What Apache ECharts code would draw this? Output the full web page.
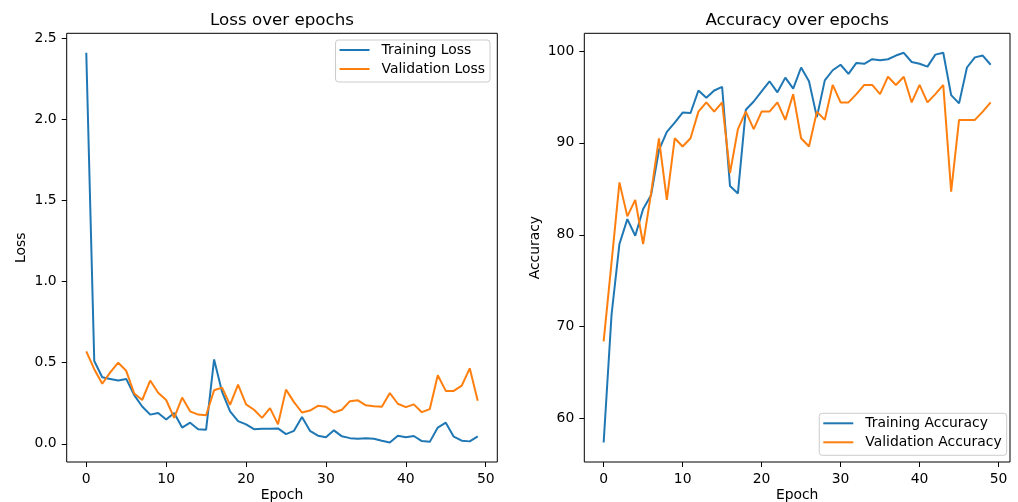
<!DOCTYPE html>
<html>
<head>
<meta charset="utf-8">
<title>Training curves</title>
<script src="https://cdn.jsdelivr.net/npm/echarts@6/dist/echarts.min.js"></script>
<style>
  html, body { margin: 0; padding: 0; background: #ffffff; }
  #chart { width: 1018px; height: 502px; }
</style>
</head>
<body>
<div id="chart"></div>
<script>
// Per-epoch metrics (50 epochs)
const epochs = Array.from({ length: 50 }, (_, i) => i);

const trainLoss = [2.41, 0.51, 0.41, 0.40, 0.39, 0.40, 0.30, 0.23, 0.18, 0.19,
  0.15, 0.19, 0.10, 0.13, 0.09, 0.087, 0.52, 0.32, 0.20, 0.14,
  0.12, 0.09, 0.093, 0.093, 0.095, 0.06, 0.08, 0.165, 0.08, 0.05,
  0.04, 0.083, 0.046, 0.035, 0.031, 0.035, 0.031, 0.019, 0.008, 0.05,
  0.04, 0.048, 0.017, 0.012, 0.10, 0.13, 0.044, 0.019, 0.015, 0.046];

const valLoss = [0.57, 0.46, 0.37, 0.44, 0.50, 0.45, 0.31, 0.27, 0.39, 0.315,
  0.27, 0.16, 0.285, 0.20, 0.18, 0.176, 0.33, 0.346, 0.24, 0.365,
  0.243, 0.21, 0.16, 0.22, 0.12, 0.334, 0.257, 0.193, 0.205, 0.234,
  0.228, 0.193, 0.21, 0.263, 0.268, 0.237, 0.232, 0.228, 0.313, 0.247,
  0.226, 0.243, 0.195, 0.214, 0.423, 0.326, 0.326, 0.359, 0.465, 0.266];

const trainAcc = [57.4, 71.3, 79.0, 81.7, 79.9, 82.8, 84.3, 89.2, 91.2, 92.2,
  93.3, 93.25, 95.7, 94.9, 95.7, 96.1, 85.3, 84.5, 93.6, 94.5,
  95.6, 96.7, 95.5, 97.1, 95.9, 98.2, 96.7, 92.8, 96.8, 97.9,
  98.5, 97.5, 98.7, 98.6, 99.1, 99.0, 99.1, 99.5, 99.8, 98.8,
  98.6, 98.3, 99.6, 99.8, 95.2, 94.3, 98.2, 99.3, 99.5, 98.5];

const valAcc = [68.4, 77.0, 85.7, 82.0, 83.8, 79.0, 84.5, 90.5, 83.8, 90.5,
  89.6, 90.5, 93.4, 94.4, 93.4, 94.4, 86.7, 91.5, 93.4, 91.5,
  93.4, 93.4, 94.4, 92.5, 95.3, 90.5, 89.6, 93.4, 92.5, 96.3,
  94.4, 94.4, 95.3, 96.3, 96.3, 95.3, 97.2, 96.3, 97.2, 94.4,
  96.3, 94.4, 95.3, 96.3, 84.7, 92.5, 92.5, 92.5, 93.4, 94.4];

// Tick positions
const epochTicks = [0, 10, 20, 30, 40, 50];
const lossTicks = [0, 0.5, 1.0, 1.5, 2.0, 2.5];
const accTicks = [60, 70, 80, 90, 100];

const FONT = 'DejaVu Sans';
const BLUE = '#1f77b4';
const ORANGE = '#ff7f0e';
const W = 1018;

// Axes rectangles (px)
const lossBox = { left: 66.7, top: 33.3, width: 430.6, height: 428.7 };
const accBox = { left: 584.3, top: 33.3, width: 425.7, height: 428.7 };

// Padded data ranges (5% margins on each side)
function padded(values) {
  const lo = Math.min(...values), hi = Math.max(...values);
  const m = (hi - lo) * 0.05;
  return [lo - m, hi + m];
}
const xRange = padded(epochs);
const lossRange = padded(trainLoss.concat(valLoss));
const accRange = padded(trainAcc.concat(valAcc));

const pairs = ys => epochs.map((e, i) => [e, ys[i]]);

// Center titles over each axes box
const measureCtx = document.createElement('canvas').getContext('2d');
function textWidth(str, size) {
  measureCtx.font = size + 'px "' + FONT + '"';
  return measureCtx.measureText(str).width;
}
const TITLE_SIZE = 16.7;
function centeredTitle(text, box) {
  const w = textWidth(text, TITLE_SIZE);
  return {
    text: text,
    left: box.left + box.width / 2 - w / 2,
    top: 12.5,
    padding: 0,
    textStyle: { fontFamily: FONT, fontSize: TITLE_SIZE, fontWeight: 'normal', color: '#000' }
  };
}

const tickStyle = { show: true, inside: false, length: 5, lineStyle: { color: '#000', width: 1 } };
const labelBase = { color: '#000', fontFamily: FONT, fontSize: 13.9, margin: 10 };

function xAxis(gridIndex) {
  return {
    type: 'value', gridIndex: gridIndex,
    min: xRange[0], max: xRange[1],
    name: 'Epoch', nameLocation: 'middle', nameGap: 26, nameMoveOverlap: false,
    nameTextStyle: { color: '#000', fontFamily: FONT, fontSize: 13.9 },
    axisLine: { show: false, onZero: false },
    axisTick: Object.assign({ customValues: epochTicks }, tickStyle),
    axisLabel: Object.assign({ customValues: epochTicks, formatter: v => String(Math.round(v)) }, labelBase),
    splitLine: { show: false }
  };
}

function yAxis(gridIndex, name, range, ticks, fmt, gap) {
  return {
    type: 'value', gridIndex: gridIndex,
    min: range[0], max: range[1],
    name: name, nameLocation: 'middle', nameGap: gap, nameMoveOverlap: false,
    nameTextStyle: { color: '#000', fontFamily: FONT, fontSize: 13.9 },
    axisLine: { show: false, onZero: false },
    axisTick: Object.assign({ customValues: ticks }, tickStyle),
    axisLabel: Object.assign({ customValues: ticks, formatter: fmt }, labelBase),
    splitLine: { show: false }
  };
}

function legend(names, rightEdge, top) {
  return {
    data: names,
    orient: 'vertical',
    right: W - rightEdge, top: top,
    icon: 'rect', itemWidth: 30, itemHeight: 2, itemGap: 5,
    padding: [3, 5, 6, 4],
    backgroundColor: 'rgba(255,255,255,0.8)',
    borderColor: '#cccccc', borderWidth: 1, borderRadius: 3,
    itemStyle: { borderWidth: 0 },
    textStyle: { color: '#000', fontFamily: FONT, fontSize: 13.9, padding: [0, 0, 0, 7] },
    selectedMode: false
  };
}

function line(name, ys, color, xi, yi) {
  return {
    type: 'line', name: name,
    xAxisIndex: xi, yAxisIndex: yi,
    data: pairs(ys),
    symbol: 'none', showSymbol: false,
    color: color,
    lineStyle: { color: color, width: 2 },
    animation: false, silent: true
  };
}

const gridStyle = {
  show: true, borderColor: '#000', borderWidth: 1, backgroundColor: 'transparent',
  containLabel: false, outerBoundsMode: 'none'
};

const option = {
  backgroundColor: '#ffffff',
  animation: false,
  title: [
    centeredTitle('Loss over epochs', lossBox),
    centeredTitle('Accuracy over epochs', accBox)
  ],
  grid: [
    Object.assign({}, lossBox, gridStyle),
    Object.assign({}, accBox, gridStyle)
  ],
  xAxis: [xAxis(0), xAxis(1)],
  yAxis: [
    yAxis(0, 'Loss', lossRange, lossTicks, v => v.toFixed(1), 38),
    yAxis(1, 'Accuracy', accRange, accTicks, v => String(Math.round(v)), 42)
  ],
  legend: [
    legend(['Training Loss', 'Validation Loss'], 490, 40),
    legend(['Training Accuracy', 'Validation Accuracy'], 1006.7, 413.3)
  ],
  series: [
    line('Training Loss', trainLoss, BLUE, 0, 0),
    line('Validation Loss', valLoss, ORANGE, 0, 0),
    line('Training Accuracy', trainAcc, BLUE, 1, 1),
    line('Validation Accuracy', valAcc, ORANGE, 1, 1)
  ]
};

const chart = echarts.init(document.getElementById('chart'), null, { renderer: 'canvas' });
chart.setOption(option);
</script>
</body>
</html>
